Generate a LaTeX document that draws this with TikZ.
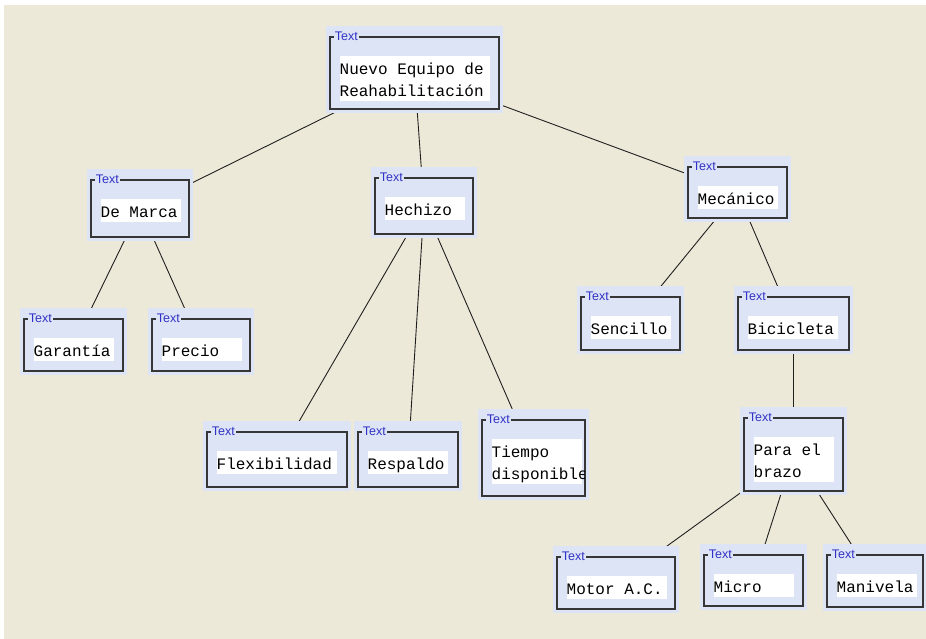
\documentclass[tikz,border=0pt]{standalone}
\usepackage{fontspec}
\setmainfont{Liberation Sans}
\newfontfamily\boxfont{Liberation Mono}
\usetikzlibrary{fit}

\definecolor{paper}{HTML}{ECE9D8}
\definecolor{halo}{HTML}{DCE4F6}
\definecolor{framecol}{HTML}{363636}
\definecolor{tagblue}{HTML}{3232C4}
\definecolor{edgecol}{HTML}{202020}

\pgfdeclarelayer{edges}
\pgfdeclarelayer{halos}
\pgfsetlayers{edges,halos,main}

\tikzset{
  frame/.style={draw=framecol, line width=1.1pt, fill=halo, inner sep=0pt},
  txt/.style={fill=white, anchor=north west, inner xsep=0pt, inner ysep=1.5pt,
    text width=#1, align=left, font=\boxfont\fontsize{16}{22}\selectfont,
    execute at begin node={\spaceskip=9.6pt\relax\rule{0pt}{17pt}},
    execute at end node={\rule[-3pt]{0pt}{3pt}}},
  txt/.default=80pt,
  tag/.style={fill=halo, text=tagblue, anchor=west, inner xsep=1.2pt, inner ysep=0pt,
    font=\fontsize{12.5}{12.5}\selectfont},
  edge/.style={draw=edgecol, line width=0.9pt}
}

\begin{document}
\begin{tikzpicture}[x=1pt,y=-1pt]
\useasboundingbox (0,0) rectangle (926,639);

% boxes (frames)
\node[frame, fit={(330,37) (499,109)}] (root) {};
\node[frame, fit={(91,180) (189,237)}] (marca) {};
\node[frame, fit={(375,178) (473,234)}] (hechizo) {};
\node[frame, fit={(688,167) (787,218)}] (mecanico) {};
\node[frame, fit={(24,319) (123,371)}] (garantia) {};
\node[frame, fit={(152,319) (250,371)}] (precio) {};
\node[frame, fit={(581,297) (680,350)}] (sencillo) {};
\node[frame, fit={(738,297) (849,350)}] (bicicleta) {};
\node[frame, fit={(744,418) (843,491)}] (brazo) {};
\node[frame, fit={(207,432) (347,487)}] (flex) {};
\node[frame, fit={(358,432) (458,487)}] (respaldo) {};
\node[frame, fit={(482,420) (585,496)}] (tiempo) {};
\node[frame, fit={(557,557) (675,609)}] (motor) {};
\node[frame, fit={(704,555) (803,606)}] (micro) {};
\node[frame, fit={(827,555) (923,607)}] (manivela) {};

% halos and "Text" captions
\foreach \n in {root,marca,hechizo,mecanico,garantia,precio,sencillo,bicicleta,
                brazo,flex,respaldo,tiempo,motor,micro,manivela}{
  \begin{pgfonlayer}{halos}
    \fill[halo] ([shift={(-3,-10)}]\n.north west) rectangle ([shift={(3,3)}]\n.south east);
  \end{pgfonlayer}
  \node[tag] (\n-tag) at ([xshift=4]\n.north west) {Text};
}

% labels
\node[txt=150pt] (root-t) at ([shift={(10,19)}]root.north west) {Nuevo Equipo de\\Reahabilitación};
\node[txt] (marca-t) at ([shift={(10,19)}]marca.north west) {De Marca};
\node[txt] (hechizo-t) at ([shift={(10,19)}]hechizo.north west) {Hechizo};
\node[txt] (mecanico-t) at ([shift={(10,19)}]mecanico.north west) {Mecánico};
\node[txt] (garantia-t) at ([shift={(10,19)}]garantia.north west) {Garantía};
\node[txt] (precio-t) at ([shift={(10,19)}]precio.north west) {Precio};
\node[txt] (sencillo-t) at ([shift={(10,19)}]sencillo.north west) {Sencillo};
\node[txt=90pt] (bicicleta-t) at ([shift={(10,19)}]bicicleta.north west) {Bicicleta};
\node[txt] (brazo-t) at ([shift={(10,19)}]brazo.north west) {Para el\\brazo};
\node[txt=120pt] (flex-t) at ([shift={(10,19)}]flex.north west) {Flexibilidad};
\node[txt] (respaldo-t) at ([shift={(10,19)}]respaldo.north west) {Respaldo};
% the second line runs into the right edge of its frame and is cut there
\begin{scope}
  \clip (tiempo.north west) rectangle ([xshift=-0.6pt]tiempo.south east);
  \node[txt=90pt] (tiempo-t) at ([shift={(10,19)}]tiempo.north west) {Tiempo\\\mbox{disponible}};
\end{scope}
\node[txt=100pt] (motor-t) at ([shift={(10,19)}]motor.north west) {Motor A.C.};
\node[txt] (micro-t) at ([shift={(10,19)}]micro.north west) {Micro};
\node[txt] (manivela-t) at ([shift={(10,19)}]manivela.north west) {Manivela};

% paper and connectors, beneath everything else
\begin{pgfonlayer}{edges}
  \fill[paper] (4,5) rectangle (926,639);
  \draw[edge] (root) -- (marca);
  \draw[edge] (root) -- (hechizo);
  \draw[edge] (root) -- (mecanico);
  \draw[edge] (marca) -- (garantia);
  \draw[edge] (marca) -- (precio);
  \draw[edge] (hechizo) -- (flex);
  \draw[edge] (hechizo) -- (respaldo);
  \draw[edge] (hechizo) -- (tiempo);
  \draw[edge] (mecanico) -- (sencillo);
  \draw[edge] (mecanico) -- (bicicleta);
  \draw[edge] (bicicleta) -- (brazo);
  \draw[edge] (brazo) -- (motor);
  \draw[edge] (brazo) -- (micro);
  \draw[edge] (brazo) -- (manivela);
\end{pgfonlayer}
\end{tikzpicture}
\end{document}
